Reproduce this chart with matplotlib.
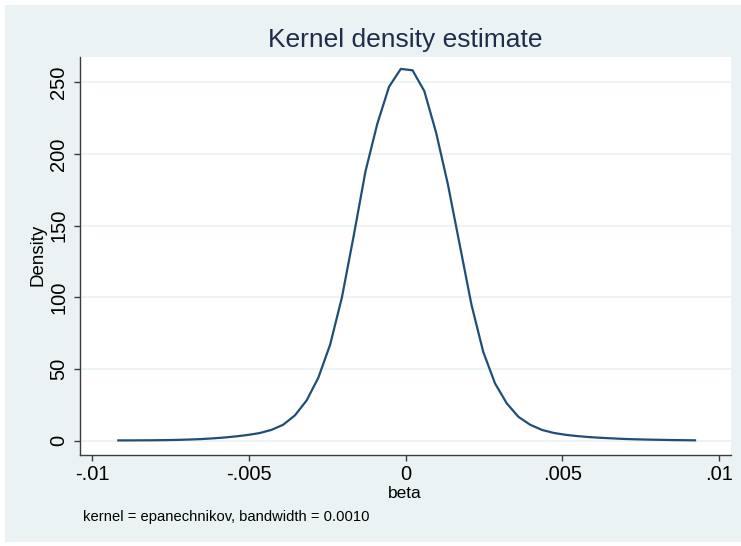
import matplotlib
matplotlib.use("Agg")
import matplotlib.pyplot as plt
from matplotlib.patches import Rectangle

# Kernel density estimate evaluation points (beta) and density values
beta = [-0.009167, -0.008791, -0.008416, -0.008040, -0.007664, -0.007289,
        -0.006913, -0.006537, -0.006161, -0.005786, -0.005410, -0.005034,
        -0.004659, -0.004283, -0.003907, -0.003532, -0.003156, -0.002780,
        -0.002405, -0.002029, -0.001653, -0.001277, -0.000902, -0.000526,
        -0.000150, 0.000225, 0.000601, 0.000977, 0.001352, 0.001728,
        0.002104, 0.002480, 0.002855, 0.003231, 0.003607, 0.003982,
        0.004358, 0.004734, 0.005109, 0.005485, 0.005861, 0.006237,
        0.006612, 0.006988, 0.007364, 0.007739, 0.008115, 0.008491,
        0.008866, 0.009242]
density = [0.1, 0.1, 0.15, 0.2, 0.3, 0.45,
           0.7, 1.0, 1.5, 2.1, 2.9, 3.9,
           5.2, 7.4, 11.0, 17.5, 28.0, 44.0,
           67.0, 100.0, 143.0, 188.0, 221.0, 247.0,
           259.5, 258.5, 244.0, 215.0, 179.0, 137.0,
           95.0, 62.0, 40.0, 26.0, 16.5, 11.0,
           7.4, 5.3, 4.0, 3.1, 2.4, 1.9,
           1.5, 1.1, 0.85, 0.65, 0.5, 0.35,
           0.25, 0.15]

xticks = [-0.01, -0.005, 0.0, 0.005, 0.01]
xticklabels = ['-.01', '-.005', '0', '.005', '.01']
yticks = [0, 50, 100, 150, 200, 250]
yticklabels = ['0', '50', '100', '150', '200', '250']

title = 'Kernel density estimate'
xlabel = 'beta'
ylabel = 'Density'
note = 'kernel = epanechnikov, bandwidth = 0.0010'

plt.rcParams['font.family'] = ['Liberation Sans', 'DejaVu Sans']

W, H = 741, 546
BG = '#EAF2F3'
LINE = '#1F4E79'
AXC = '#3C3C3C'

fig = plt.figure(figsize=(W / 100, H / 100), dpi=100, facecolor='white')
fig.patches.append(Rectangle((5 / W, 4 / H), (W - 5) / W, (H - 9) / H,
                             transform=fig.transFigure, facecolor=BG,
                             edgecolor='none', zorder=-10))

ax = fig.add_axes([80 / W, (H - 455) / H, (731 - 80) / W, (455 - 57) / H])
ax.set_zorder(5)
ax.set_facecolor('white')
ax.plot(beta, density, color=LINE, lw=1.6, solid_joinstyle='round')

ax.set_xlim(-0.01039, 0.01039)
ax.set_ylim(-10.1, 267.8)
ax.set_xticks(xticks)
ax.set_xticklabels(xticklabels)
ax.set_yticks(yticks)
ax.set_yticklabels(yticklabels)
ax.yaxis.grid(True, color=BG, lw=1.3)
ax.set_axisbelow(True)

for s in ['top', 'right']:
    ax.spines[s].set_visible(False)
for s in ['left', 'bottom']:
    ax.spines[s].set_color(AXC)
    ax.spines[s].set_linewidth(1.0)

ax.tick_params(axis='both', direction='out', length=4.5, width=1.0,
               color=AXC, labelcolor='black')
ax.tick_params(axis='x', pad=2.5, labelsize=14.5)
ax.tick_params(axis='y', pad=4, labelsize=14.5, labelrotation=90)
for lab in ax.get_yticklabels():
    lab.set_va('center')

fig.text(405 / W, 1 - 40 / H, title, ha='center', va='center',
         fontsize=19, color='#1F2D4D')
fig.text(405 / W, 1 - 494 / H, xlabel, ha='center', va='center',
         fontsize=12.5, color='black')
fig.text(38 / W, 1 - 255 / H, ylabel, ha='center', va='center',
         rotation=90, fontsize=13.5, color='black')
fig.text(83 / W, 1 - 517 / H, note, ha='left', va='center',
         fontsize=10.6, color='black')

fig.savefig('out.png', dpi=100, facecolor='white')
